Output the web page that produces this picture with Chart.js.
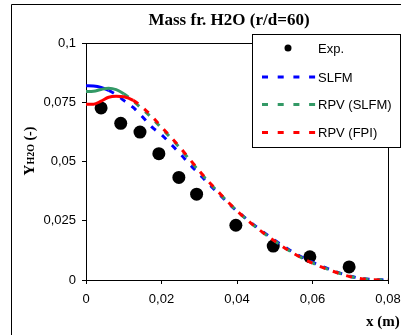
<!DOCTYPE html>
<html>
<head>
<meta charset="utf-8">
<script src="https://cdn.jsdelivr.net/npm/chart.js@4.4.1/dist/chart.umd.min.js"></script>
<style>
  body { margin: 0; background: #fff; }
  #wrap { width: 401px; height: 335px; }
</style>
</head>
<body>
<div id="wrap"><canvas id="chart" width="401" height="335"></canvas></div>
<script>
// Données
const expX = [0.0040, 0.0092, 0.0143, 0.0193, 0.0246, 0.0293, 0.0397, 0.0496, 0.0593, 0.0697];
const expY = [0.0726, 0.0661, 0.0624, 0.0533, 0.0433, 0.0362, 0.0231, 0.0143, 0.0098, 0.0055];

const modelX = [0, 0.002, 0.004, 0.006, 0.008, 0.010, 0.0125, 0.015, 0.0175, 0.020, 0.0225, 0.025, 0.0275,
                0.030, 0.0325, 0.035, 0.0375, 0.040, 0.045, 0.050, 0.055, 0.060, 0.065, 0.070, 0.075, 0.080];
const slfmY = [0.0820, 0.0819, 0.0813, 0.0800, 0.0782, 0.0758, 0.0728, 0.0688, 0.0645, 0.0613, 0.0573, 0.0532, 0.0488,
               0.0447, 0.0406, 0.0366, 0.0327, 0.0291, 0.0226, 0.0168, 0.0116, 0.0075, 0.0042, 0.0016, 0.0003, 0];
const rpvSlfmY = [0.0795, 0.0796, 0.0804, 0.0809, 0.0803, 0.0786, 0.0755, 0.0720, 0.0683, 0.0641, 0.0599, 0.0554, 0.0506,
                  0.0458, 0.0413, 0.0371, 0.0330, 0.0291, 0.0223, 0.0165, 0.0113, 0.0072, 0.0040, 0.0015, 0.0002, 0];
const rpvFpiY = [0.0742, 0.0742, 0.0755, 0.0771, 0.0775, 0.0773, 0.0758, 0.0728, 0.0690, 0.0646, 0.0603, 0.0558, 0.0509,
                 0.0461, 0.0415, 0.0373, 0.0331, 0.0292, 0.0223, 0.0164, 0.0112, 0.0071, 0.0039, 0.0014, 0.0002, 0];

const xTicks = [0, 0.02, 0.04, 0.06, 0.08];
const xTickLabels = ['0', '0,02', '0,04', '0,06', '0,08'];
const yTicks = [0, 0.025, 0.05, 0.075, 0.1];
const yTickLabels = ['0', '0,025', '0,05', '0,075', '0,1'];

const toPoints = (xs, ys) => xs.map((x, i) => ({ x: x, y: ys[i] }));

const DASH = [6, 8];
const dashAfter = x0 => ctx => (ctx.p1.parsed.x <= x0 ? [] : DASH);

function lineDataset(label, ys, color, order, solidUntil) {
  return {
    label: label,
    data: toPoints(modelX, ys),
    showLine: true,
    borderColor: color,
    backgroundColor: color,
    borderWidth: 3,
    borderDash: DASH,
    pointRadius: 0,
    cubicInterpolationMode: 'monotone',
    order: order,
    segment: { borderDash: dashAfter(solidUntil) }
  };
}

const serif = '"Liberation Serif", "Times New Roman", serif';
const sans = '"Liberation Sans", Arial, sans-serif';

// Cadre, titres et légende dessinés à la main
const decor = {
  id: 'decor',
  beforeDraw(chart) {
    const ctx = chart.ctx;
    ctx.save();
    ctx.fillStyle = '#fff';
    ctx.fillRect(0, 0, chart.width, chart.height);
    ctx.strokeStyle = '#000';
    ctx.lineWidth = 1;
    ctx.beginPath();
    ctx.moveTo(11.5, chart.height);
    ctx.lineTo(11.5, 4.5);
    ctx.lineTo(chart.width, 4.5);
    ctx.stroke();
    ctx.restore();
  },
  beforeDatasetsDraw(chart) {
    const ctx = chart.ctx;
    const a = chart.chartArea;
    ctx.save();
    ctx.strokeStyle = '#000';
    ctx.lineWidth = 1;
    ctx.beginPath();
    ctx.moveTo(a.left, a.top + 0.5);
    ctx.lineTo(a.right + 0.5, a.top + 0.5);
    ctx.lineTo(a.right + 0.5, a.bottom);
    ctx.stroke();
    ctx.restore();
  },
  afterDraw(chart) {
    const ctx = chart.ctx;
    ctx.save();
    ctx.fillStyle = '#000';

    // titre
    ctx.font = 'bold 17px ' + serif;
    ctx.textAlign = 'center';
    ctx.textBaseline = 'alphabetic';
    ctx.fillText('Mass fr. H2O (r/d=60)', 229, 25);

    // titre axe x
    ctx.font = 'bold 15px ' + serif;
    ctx.textAlign = 'left';
    ctx.fillText('x (m)', 366, 326);

    // titre axe y : Y avec indice H2O
    const parts = [
      { t: 'Y', f: 'bold 15px ' + serif },
      { t: 'H2O', f: 'bold 10px ' + serif },
      { t: ' (-)', f: 'bold 14px ' + serif }
    ];
    let total = 0;
    parts.forEach(p => { ctx.font = p.f; p.w = ctx.measureText(p.t).width; total += p.w; });
    ctx.translate(34, 151);
    ctx.rotate(-Math.PI / 2);
    let px = -total / 2;
    parts.forEach(p => { ctx.font = p.f; ctx.fillText(p.t, px, 0); px += p.w; });
    ctx.restore();

    // légende
    ctx.save();
    const box = { x: 252.5, y: 34.5, w: 148, h: 113 };
    ctx.fillStyle = '#fff';
    ctx.fillRect(box.x, box.y, box.w, box.h);
    ctx.strokeStyle = '#000';
    ctx.lineWidth = 1;
    ctx.strokeRect(box.x, box.y, box.w, box.h);
    ctx.font = '13px ' + sans;
    ctx.textBaseline = 'middle';
    ctx.textAlign = 'left';
    const rows = [48, 77, 104.5, 132.5];
    chart.data.datasets.forEach((ds, i) => {
      const y = rows[i];
      if (i === 0) {
        ctx.fillStyle = '#000';
        ctx.beginPath();
        ctx.arc(288, y, 3.5, 0, Math.PI * 2);
        ctx.fill();
      } else {
        ctx.strokeStyle = ds.borderColor;
        ctx.lineWidth = 3;
        ctx.setLineDash([6, 9.7]);
        ctx.beginPath();
        ctx.moveTo(262, y);
        ctx.lineTo(316, y);
        ctx.stroke();
        ctx.setLineDash([]);
      }
      ctx.fillStyle = '#000';
      ctx.fillText(ds.label, 318, y + 1);
    });
    ctx.restore();
  }
};

new Chart(document.getElementById('chart'), {
  type: 'scatter',
  data: {
    datasets: [
      {
        label: 'Exp.',
        data: toPoints(expX, expY),
        pointRadius: 6.5,
        pointBackgroundColor: '#000',
        pointBorderColor: '#000',
        pointBorderWidth: 0,
        showLine: false,
        order: 4
      },
      lineDataset('SLFM', slfmY, '#0000ff', 3, 0.006),
      lineDataset('RPV (SLFM)', rpvSlfmY, '#339966', 2, 0.010),
      lineDataset('RPV (FPI)', rpvFpiY, '#ff0000', 1, 0.0125)
    ]
  },
  options: {
    responsive: false,
    animation: false,
    layout: { padding: { top: 43, right: 13, left: 0, bottom: 0 } },
    plugins: {
      legend: { display: false },
      title: { display: false },
      tooltip: { enabled: false }
    },
    scales: {
      x: {
        type: 'linear',
        min: 0,
        max: 0.08,
        afterBuildTicks: scale => { scale.ticks = xTicks.map(v => ({ value: v })); },
        afterFit: scale => { scale.height = 55; scale.paddingLeft = 0; scale.paddingRight = 0; },
        grid: { drawOnChartArea: false, tickLength: 4, color: '#000' },
        border: { color: '#000', width: 1 },
        ticks: {
          padding: 8,
          maxRotation: 0,
          autoSkip: false,
          color: '#000',
          font: { family: sans, size: 13 },
          callback: (v, i) => xTickLabels[i]
        }
      },
      y: {
        type: 'linear',
        min: 0,
        max: 0.1,
        afterBuildTicks: scale => { scale.ticks = yTicks.map(v => ({ value: v })); },
        afterFit: scale => { scale.width = 86; scale.paddingTop = 0; scale.paddingBottom = 0; },
        grid: { drawOnChartArea: false, tickLength: 4, color: '#000' },
        border: { color: '#000', width: 1 },
        ticks: {
          padding: 6,
          autoSkip: false,
          color: '#000',
          font: { family: sans, size: 13 },
          callback: (v, i) => yTickLabels[i]
        }
      }
    }
  },
  plugins: [decor]
});
</script>
</body>
</html>
